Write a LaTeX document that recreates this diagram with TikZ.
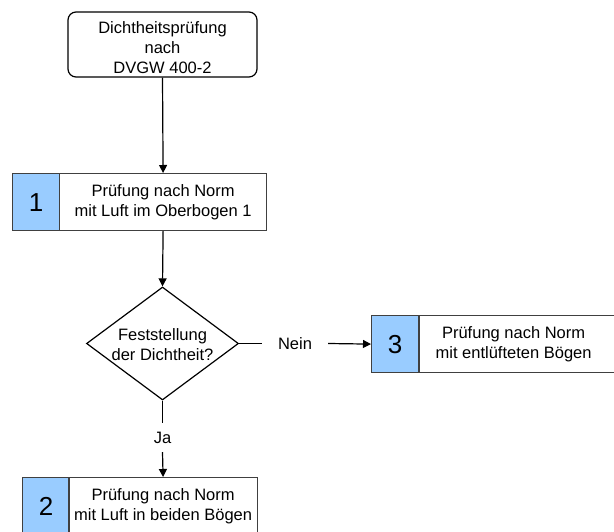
\documentclass[tikz,border=0pt]{standalone}
\usepackage{fontspec}
\setmainfont{Liberation Sans}
\usetikzlibrary{arrows.meta,shapes.geometric}
\definecolor{numblue}{HTML}{99CCFF}
\definecolor{edgegray}{HTML}{404040}
\begin{document}
\begin{tikzpicture}[x=1pt,y=-1pt,
  font=\fontsize{16.5}{20}\selectfont,
  startbox/.style={draw=black, line width=1.2pt, rounded corners=8pt, minimum width=189pt, minimum height=65pt, align=center, inner sep=0pt},
  numbox/.style={draw=edgegray, fill=numblue, line width=1.2pt, minimum width=47pt, minimum height=57pt, inner sep=0pt, font=\fontsize{26}{30}\selectfont},
  txtbox/.style={draw=edgegray, line width=1.2pt, minimum height=57pt, inner sep=0pt, align=center},
  decision/.style={diamond, draw=black, line width=1.2pt, minimum width=152pt, minimum height=113pt, inner sep=0pt, aspect=1.345},
  lbl/.style={inner sep=0pt, align=center},
  conn/.style={line width=1.2pt},
  arr/.style={conn, -{Triangle[length=8pt,width=8pt]}}
]
\useasboundingbox (0,0) rectangle (614,532);
\clip (0,0) rectangle (614,532);
\fill[white] (0,0) rectangle (614,532);

\node[startbox] (start) at (162.5,44.5) {\rule{0pt}{18pt}Dichtheitsprüfung\\nach\\DVGW 400-2};

\node[numbox, anchor=north west] (n1) at (12,173) {1};
\node[txtbox, anchor=north west, minimum width=207pt] (t1) at (59,173) {Prüfung nach Norm\\mit Luft im Oberbogen 1};

\node[decision] (dia) at (162.5,343.5) {};
\node[lbl] (diatext) at (162.5,345) {Feststellung\\der Dichtheit?};

\node[lbl, minimum width=66pt] (nein) at (295,343.5) {Nein};
\node[numbox, anchor=north west] (n3) at (371,315) {3};
\node[txtbox, anchor=north west, minimum width=201pt] (t3) at (419,315) {\begin{tabular}{@{}c@{\hspace{13pt}}}Prüfung nach Norm\\mit entlüfteten Bögen\end{tabular}};

\node[lbl, minimum height=29pt] (ja) at (162.5,437.5) {Ja};
\node[numbox, anchor=north west] (n2) at (22,477) {2};
\node[txtbox, anchor=north west, minimum width=189pt] (t2) at (68,477) {Prüfung nach Norm\\mit Luft in beiden Bögen};

\draw[arr] (start.south) -- (t1.north);
\draw[arr] (t1.south) -- (dia.north);
\draw[conn] (dia.east) -- (nein.west);
\draw[arr] (nein.east) -- (n3.west);
\draw[conn] (dia.south) -- (ja.north);
\draw[arr] (ja.south) -- (t2.north);
\end{tikzpicture}
\end{document}
